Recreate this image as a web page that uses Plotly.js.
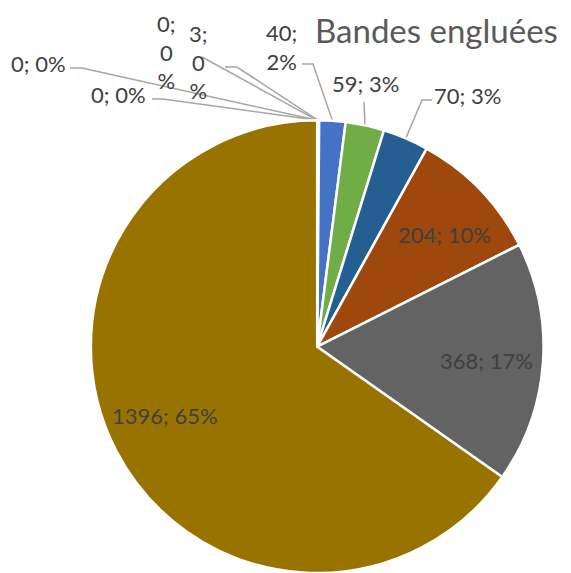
<!DOCTYPE html>
<html>
<head>
<meta charset="utf-8">
<script src="https://cdn.plot.ly/plotly-3.0.1.min.js"></script>
<style>html,body{margin:0;padding:0;background:#fff;}#chart{width:571px;height:573px;}</style>
</head>
<body>
<div id="chart"></div>
<script>
// ---- Data ----
const categories = ['Catégorie 1','Catégorie 2','Catégorie 3','Catégorie 4','Catégorie 5','Catégorie 6','Catégorie 7','Catégorie 8','Catégorie 9','Catégorie 10'];
const values = [0, 0, 0, 3, 40, 59, 70, 204, 368, 1396];
const colors = ['#5B9BD5','#ED7D31','#A5A5A5','#FFC000','#4472C4','#70AD47','#255E91','#9E480E','#636363','#997300'];
const titleText = 'Bandes engluées';

// ---- Layout constants (pixels) ----
const W = 571, H = 573;
const domainX = [0.158, 0.953];
const domainY = [0.0, 0.79];
const cx = (domainX[0] + domainX[1]) / 2 * W;
const R = Math.min((domainX[1]-domainX[0]) * W, (domainY[1]-domainY[0]) * H) / 2;
const cy = H - (domainY[0] * H + R);

// label centers and leader-line start points (layout only)
const labelPos = [[38,63],[118,95],[166,52],[198,62],[281,47],[365,84],[467,96],[444,234],[486,360],[165,415]];
const leaderStart = [
  [[70,68],[82,68]],
  [[152,99],[163,99]],
  [[202,57]],
  [[225,67],[237,67]],
  [[302,64],[313,64]],
  [[364,102]],
  [[432,100],[422,100]],
  null, null, null
];
const stacked = [false,false,true,true,'two',false,false,false,false,false];

const total = values.reduce((a,b)=>a+b,0);
const px2x = p => p / W;
const py2y = p => 1 - p / H;

// edge point at mid-angle of slice i (clockwise from 12 o'clock)
function edgePoint(i) {
  let before = 0;
  for (let k = 0; k < i; k++) before += values[k];
  const mid = (before + values[i]/2) / total * 2 * Math.PI;
  return [cx + R * Math.sin(mid), cy - R * Math.cos(mid)];
}

const annotations = [];
const shapes = [];
values.forEach((v, i) => {
  const pct = Math.round(v / total * 100);
  let txt;
  if (stacked[i] === true) txt = v + ';<br>' + pct + '<br>%';
  else if (stacked[i] === 'two') txt = v + ';<br>' + pct + '%';
  else txt = v + '; ' + pct + '%';
  annotations.push({
    x: px2x(labelPos[i][0]), y: py2y(labelPos[i][1]), xref: 'paper', yref: 'paper',
    xanchor: 'center', yanchor: 'middle', showarrow: false, text: txt,
    font: {family: 'Lato, "Open Sans", sans-serif', size: 22, color: '#404040'}
  });
  if (leaderStart[i]) {
    const pts = leaderStart[i].concat([edgePoint(i)]);
    const path = pts.map((p, k) => (k ? 'L' : 'M') + px2x(p[0]).toFixed(5) + ',' + py2y(p[1]).toFixed(5)).join(' ');
    shapes.push({type: 'path', xref: 'paper', yref: 'paper', path: path, line: {color: '#A6A6A6', width: 1.5}, layer: 'below'});
  }
});

annotations.push({
  x: px2x(436), y: py2y(30), xref: 'paper', yref: 'paper', xanchor: 'center', yanchor: 'middle',
  showarrow: false, text: titleText,
  font: {family: 'Lato, "Open Sans", sans-serif', size: 33, color: '#595959'}
});

const trace = {
  type: 'pie',
  labels: categories,
  values: values,
  sort: false,
  direction: 'clockwise',
  rotation: 0,
  textinfo: 'none',
  hoverinfo: 'label+value+percent',
  marker: {colors: colors, line: {color: '#FFFFFF', width: 2.5}},
  domain: {x: domainX, y: domainY},
  showlegend: false
};

const layout = {
  width: W, height: H,
  margin: {l: 0, r: 0, t: 0, b: 0, pad: 0},
  paper_bgcolor: '#FFFFFF',
  showlegend: false,
  annotations: annotations,
  shapes: shapes
};

Plotly.newPlot('chart', [trace], layout, {displayModeBar: false, staticPlot: true});
</script>
</body>
</html>
